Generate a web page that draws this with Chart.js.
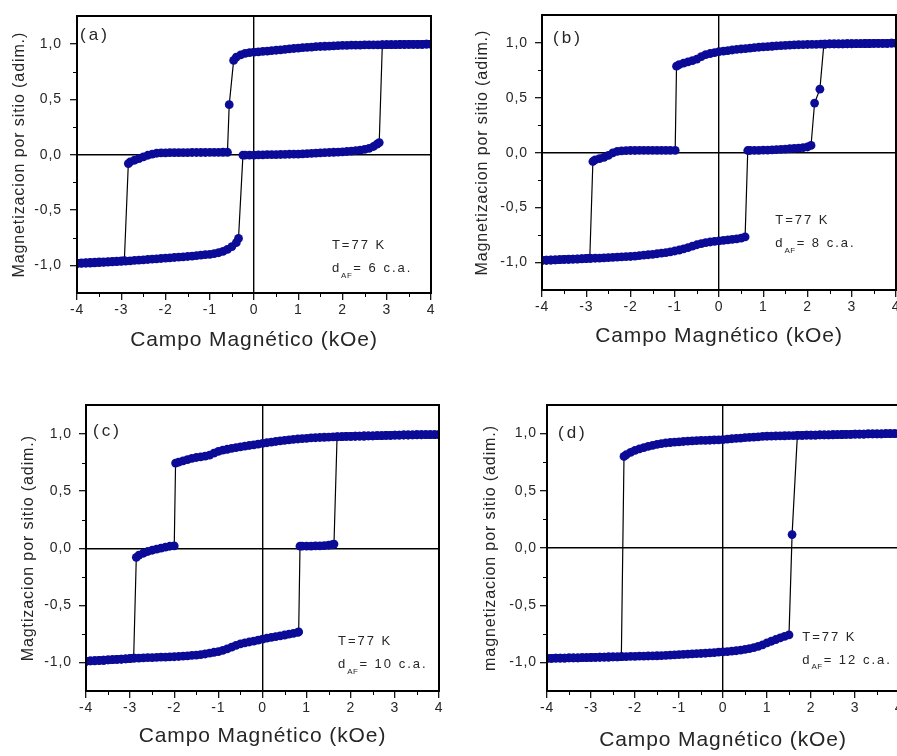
<!DOCTYPE html>
<html lang="es">
<head>
<meta charset="utf-8">
<title>Ciclos de histéresis a 77 K</title>
<script src="https://cdn.jsdelivr.net/npm/chart.js@4.4.1/dist/chart.umd.min.js"></script>
<style>
  html, body { margin: 0; padding: 0; background: #fff; overflow: hidden; }
  body { position: relative; width: 897px; height: 756px; }
  canvas { position: absolute; }
</style>
</head>
<body>
<canvas id="panelA" width="450" height="360" style="left:0;top:0"></canvas>
<canvas id="panelB" width="460" height="360" style="left:450px;top:0"></canvas>
<canvas id="panelC" width="450" height="366" style="left:0;top:390px"></canvas>
<canvas id="panelD" width="470" height="366" style="left:450px;top:390px"></canvas>
<script>
// axis ticks (campo en kOe, magnetización adimensional)
const fieldTicks = [-4, -3, -2, -1, 0, 1, 2, 3, 4];
const fieldMinorTicks = [-3.5, -2.5, -1.5, -0.5, 0.5, 1.5, 2.5, 3.5];
const magTicks = [-1, -0.5, 0, 0.5, 1];
const magMinorTicks = [-0.75, -0.25, 0.25, 0.75];

// (a) d_AF = 6 c.a. : field sweep from +4 to -4, then back
const downA = [
  [4.0,1.000],[3.9,0.999],[3.8,0.998],[3.7,0.998],[3.6,0.997],[3.5,0.997],[3.4,0.996],[3.3,0.996],[3.2,0.995],[3.1,0.995],
  [3.0,0.994],[2.9,0.994],[2.8,0.993],[2.7,0.993],[2.6,0.992],[2.5,0.992],[2.4,0.991],[2.3,0.991],[2.2,0.990],[2.1,0.989],
  [2.0,0.988],[1.9,0.986],[1.8,0.984],[1.7,0.982],[1.6,0.980],[1.5,0.978],[1.4,0.976],[1.3,0.973],[1.2,0.970],[1.1,0.967],
  [1.0,0.964],[0.9,0.960],[0.8,0.956],[0.7,0.952],[0.6,0.948],[0.5,0.944],[0.4,0.940],[0.3,0.937],[0.2,0.934],[0.1,0.930],
  [0.0,0.927],[-0.1,0.922],[-0.2,0.915],[-0.3,0.902],[-0.4,0.882],[-0.46,0.852],
  [-0.56,0.452],
  [-0.60,0.022],[-0.7,0.022],[-0.8,0.021],[-0.9,0.021],[-1.0,0.021],[-1.1,0.020],[-1.2,0.020],[-1.3,0.020],[-1.4,0.020],
  [-1.5,0.019],[-1.6,0.019],[-1.7,0.019],[-1.8,0.018],[-1.9,0.018],[-2.0,0.017],[-2.1,0.016],[-2.2,0.013],[-2.3,0.006],
  [-2.4,-0.005],[-2.5,-0.020],[-2.6,-0.036],[-2.7,-0.050],[-2.8,-0.066],[-2.84,-0.080],
  [-2.93,-0.958],[-3.0,-0.960],[-3.1,-0.962],[-3.2,-0.964],[-3.3,-0.966],[-3.4,-0.968],[-3.5,-0.970],[-3.6,-0.972],
  [-3.7,-0.974],[-3.8,-0.976],[-3.9,-0.978],[-4.0,-0.980]
];
const upA = [
  [-4.0,-0.985],[-3.9,-0.983],[-3.8,-0.981],[-3.7,-0.979],[-3.6,-0.977],[-3.5,-0.975],[-3.4,-0.973],[-3.3,-0.971],
  [-3.2,-0.969],[-3.1,-0.967],[-3.0,-0.965],[-2.9,-0.962],[-2.8,-0.959],[-2.7,-0.956],[-2.6,-0.953],[-2.5,-0.950],
  [-2.4,-0.947],[-2.3,-0.944],[-2.2,-0.941],[-2.1,-0.938],[-2.0,-0.935],[-1.9,-0.932],[-1.8,-0.929],[-1.7,-0.926],
  [-1.6,-0.923],[-1.5,-0.920],[-1.4,-0.916],[-1.3,-0.912],[-1.2,-0.908],[-1.1,-0.904],[-1.0,-0.900],[-0.9,-0.894],
  [-0.8,-0.886],[-0.7,-0.874],[-0.6,-0.856],[-0.5,-0.830],[-0.4,-0.795],[-0.35,-0.757],
  [-0.25,-0.004],[-0.2,-0.004],[-0.1,-0.003],[0.0,-0.003],[0.1,-0.002],[0.2,-0.001],[0.3,0.000],[0.4,0.000],[0.5,0.001],
  [0.6,0.002],[0.7,0.003],[0.8,0.004],[0.9,0.005],[1.0,0.006],[1.1,0.008],[1.2,0.010],[1.3,0.012],[1.4,0.014],[1.5,0.016],
  [1.6,0.018],[1.7,0.020],[1.8,0.022],[1.9,0.024],[2.0,0.026],[2.1,0.029],[2.2,0.032],[2.3,0.036],[2.4,0.041],[2.5,0.048],
  [2.6,0.058],[2.7,0.074],[2.78,0.095],[2.83,0.110],
  [2.9,0.993],[3.0,0.994],[3.1,0.995],[3.2,0.995],[3.3,0.996],[3.4,0.996],[3.5,0.997],[3.6,0.997],[3.7,0.998],
  [3.8,0.998],[3.9,0.999],[4.0,1.000]
];

// (b) d_AF = 8 c.a.
const downB = [
  [4.0,0.997],[3.9,0.997],[3.8,0.996],[3.7,0.996],[3.6,0.995],[3.5,0.995],[3.4,0.994],[3.3,0.994],[3.2,0.993],[3.1,0.993],
  [3.0,0.992],[2.9,0.992],[2.8,0.991],[2.7,0.991],[2.6,0.990],[2.5,0.990],[2.4,0.989],[2.3,0.988],[2.2,0.987],[2.1,0.986],
  [2.0,0.985],[1.9,0.984],[1.8,0.983],[1.7,0.981],[1.6,0.979],[1.5,0.977],[1.4,0.975],[1.3,0.972],[1.2,0.969],[1.1,0.966],
  [1.0,0.963],[0.9,0.960],[0.8,0.956],[0.7,0.952],[0.6,0.948],[0.5,0.944],[0.4,0.940],[0.3,0.935],[0.2,0.930],[0.1,0.925],
  [0.0,0.920],[-0.1,0.912],[-0.2,0.903],[-0.3,0.893],[-0.4,0.875],[-0.5,0.852],[-0.6,0.838],[-0.7,0.827],[-0.8,0.815],
  [-0.9,0.802],[-0.96,0.788],
  [-0.99,0.022],[-1.1,0.022],[-1.2,0.022],[-1.3,0.022],[-1.4,0.022],[-1.5,0.022],[-1.6,0.021],[-1.7,0.021],[-1.8,0.021],
  [-1.9,0.020],[-2.0,0.020],[-2.1,0.019],[-2.2,0.017],[-2.3,0.012],[-2.4,-0.002],[-2.5,-0.025],[-2.6,-0.042],[-2.7,-0.054],
  [-2.8,-0.066],[-2.85,-0.080],
  [-2.92,-0.960],[-3.0,-0.962],[-3.1,-0.964],[-3.2,-0.966],[-3.3,-0.968],[-3.4,-0.970],[-3.5,-0.972],[-3.6,-0.974],
  [-3.7,-0.976],[-3.8,-0.978],[-3.9,-0.979],[-4.0,-0.980]
];
const upB = [
  [-4.0,-0.980],[-3.9,-0.979],[-3.8,-0.977],[-3.7,-0.976],[-3.6,-0.974],[-3.5,-0.972],[-3.4,-0.971],[-3.3,-0.969],
  [-3.2,-0.968],[-3.1,-0.966],[-3.0,-0.965],[-2.9,-0.963],[-2.8,-0.961],[-2.7,-0.959],[-2.6,-0.957],[-2.5,-0.955],
  [-2.4,-0.953],[-2.3,-0.951],[-2.2,-0.949],[-2.1,-0.947],[-2.0,-0.945],[-1.9,-0.941],[-1.8,-0.937],[-1.7,-0.933],
  [-1.6,-0.929],[-1.5,-0.925],[-1.4,-0.920],[-1.3,-0.915],[-1.2,-0.910],[-1.1,-0.903],[-1.0,-0.895],[-0.9,-0.886],
  [-0.8,-0.876],[-0.7,-0.864],[-0.6,-0.851],[-0.5,-0.838],[-0.4,-0.827],[-0.3,-0.819],[-0.2,-0.813],[-0.1,-0.807],
  [0.0,-0.802],[0.1,-0.798],[0.2,-0.794],[0.3,-0.790],[0.4,-0.785],[0.5,-0.778],[0.59,-0.767],
  [0.65,0.020],[0.7,0.020],[0.8,0.021],[0.9,0.022],[1.0,0.023],[1.1,0.024],[1.2,0.026],[1.3,0.028],[1.4,0.030],
  [1.5,0.033],[1.6,0.036],[1.7,0.039],[1.8,0.042],[1.9,0.046],[2.0,0.052],[2.08,0.066],
  [2.16,0.452],[2.28,0.578],
  [2.37,0.988],[2.4,0.989],[2.5,0.990],[2.6,0.990],[2.7,0.991],[2.8,0.991],[2.9,0.992],[3.0,0.992],[3.1,0.993],
  [3.2,0.993],[3.3,0.994],[3.4,0.994],[3.5,0.995],[3.6,0.995],[3.7,0.996],[3.8,0.996],[3.9,0.997],[4.0,0.997]
];

// (c) d_AF = 10 c.a.
const downC = [
  [4.0,0.995],[3.9,0.995],[3.8,0.994],[3.7,0.994],[3.6,0.993],[3.5,0.993],[3.4,0.992],[3.3,0.991],[3.2,0.991],[3.1,0.990],
  [3.0,0.989],[2.9,0.988],[2.8,0.987],[2.7,0.986],[2.6,0.985],[2.5,0.984],[2.4,0.983],[2.3,0.982],[2.2,0.981],[2.1,0.980],
  [2.0,0.979],[1.9,0.978],[1.8,0.977],[1.7,0.976],[1.6,0.975],[1.5,0.973],[1.4,0.971],[1.3,0.969],[1.2,0.967],[1.1,0.965],
  [1.0,0.962],[0.9,0.959],[0.8,0.956],[0.7,0.952],[0.6,0.948],[0.5,0.944],[0.4,0.939],[0.3,0.934],[0.2,0.929],[0.1,0.923],
  [0.0,0.917],[-0.1,0.911],[-0.2,0.905],[-0.3,0.899],[-0.4,0.893],[-0.5,0.887],[-0.6,0.880],[-0.7,0.873],[-0.8,0.866],
  [-0.9,0.858],[-1.0,0.848],[-1.1,0.832],[-1.2,0.815],[-1.3,0.806],[-1.4,0.800],[-1.5,0.794],[-1.6,0.786],[-1.7,0.776],
  [-1.8,0.764],[-1.9,0.753],[-1.97,0.745],
  [-2.0,0.020],[-2.1,0.017],[-2.2,0.010],[-2.3,0.001],[-2.4,-0.008],[-2.5,-0.018],[-2.6,-0.029],[-2.7,-0.044],
  [-2.8,-0.060],[-2.86,-0.080],
  [-2.92,-0.962],[-3.0,-0.966],[-3.1,-0.969],[-3.2,-0.972],[-3.3,-0.974],[-3.4,-0.976],[-3.5,-0.978],[-3.6,-0.981],
  [-3.7,-0.983],[-3.8,-0.985],[-3.9,-0.987],[-4.0,-0.990]
];
const upC = [
  [-4.0,-0.990],[-3.9,-0.987],[-3.8,-0.985],[-3.7,-0.983],[-3.6,-0.981],[-3.5,-0.978],[-3.4,-0.976],[-3.3,-0.974],
  [-3.2,-0.971],[-3.1,-0.968],[-3.0,-0.965],[-2.9,-0.963],[-2.8,-0.962],[-2.7,-0.960],[-2.6,-0.958],[-2.5,-0.957],
  [-2.4,-0.955],[-2.3,-0.954],[-2.2,-0.953],[-2.1,-0.951],[-2.0,-0.950],[-1.9,-0.948],[-1.8,-0.945],[-1.7,-0.942],
  [-1.6,-0.939],[-1.5,-0.936],[-1.4,-0.932],[-1.3,-0.926],[-1.2,-0.918],[-1.1,-0.911],[-1.0,-0.905],[-0.9,-0.895],
  [-0.8,-0.882],[-0.7,-0.866],[-0.6,-0.850],[-0.5,-0.838],[-0.4,-0.829],[-0.3,-0.821],[-0.2,-0.813],[-0.1,-0.804],
  [0.0,-0.796],[0.1,-0.788],[0.2,-0.781],[0.3,-0.774],[0.4,-0.767],[0.5,-0.760],[0.6,-0.753],[0.7,-0.745],[0.8,-0.737],
  [0.82,-0.733],
  [0.85,0.018],[0.9,0.018],[1.0,0.019],[1.1,0.019],[1.2,0.020],[1.3,0.021],[1.4,0.023],[1.5,0.026],[1.58,0.030],
  [1.62,0.036],
  [1.69,0.975],[1.8,0.977],[1.9,0.978],[2.0,0.979],[2.1,0.980],[2.2,0.981],[2.3,0.982],[2.4,0.983],[2.5,0.984],
  [2.6,0.985],[2.7,0.986],[2.8,0.987],[2.9,0.988],[3.0,0.989],[3.1,0.990],[3.2,0.991],[3.3,0.991],[3.4,0.992],
  [3.5,0.993],[3.6,0.993],[3.7,0.994],[3.8,0.994],[3.9,0.995],[4.0,0.995]
];

// (d) d_AF = 12 c.a.
const downD = [
  [4.0,1.000],[3.9,1.000],[3.8,0.999],[3.7,0.999],[3.6,0.998],[3.5,0.998],[3.4,0.997],[3.3,0.997],[3.2,0.996],[3.1,0.996],
  [3.0,0.995],[2.9,0.994],[2.8,0.993],[2.7,0.992],[2.6,0.991],[2.5,0.990],[2.4,0.989],[2.3,0.989],[2.2,0.988],[2.1,0.987],
  [2.0,0.987],[1.9,0.986],[1.8,0.985],[1.7,0.984],[1.6,0.983],[1.5,0.982],[1.4,0.981],[1.3,0.980],[1.2,0.979],[1.1,0.978],
  [1.0,0.977],[0.9,0.975],[0.8,0.972],[0.7,0.970],[0.6,0.967],[0.5,0.964],[0.4,0.961],[0.3,0.958],[0.2,0.955],[0.1,0.951],
  [0.0,0.948],[-0.1,0.946],[-0.2,0.944],[-0.3,0.942],[-0.4,0.941],[-0.5,0.940],[-0.6,0.938],[-0.7,0.936],[-0.8,0.934],
  [-0.9,0.931],[-1.0,0.928],[-1.1,0.925],[-1.2,0.922],[-1.3,0.918],[-1.4,0.912],[-1.5,0.905],[-1.6,0.897],[-1.7,0.888],
  [-1.8,0.878],[-1.9,0.867],[-2.0,0.853],[-2.1,0.836],[-2.2,0.815],[-2.25,0.800],
  [-2.31,-0.950],[-2.4,-0.951],[-2.5,-0.952],[-2.6,-0.953],[-2.7,-0.954],[-2.8,-0.955],[-2.9,-0.956],[-3.0,-0.957],
  [-3.1,-0.958],[-3.2,-0.959],[-3.3,-0.960],[-3.4,-0.960],[-3.5,-0.961],[-3.6,-0.962],[-3.7,-0.963],[-3.8,-0.963],
  [-3.9,-0.964],[-4.0,-0.965]
];
const upD = [
  [-4.0,-0.965],[-3.9,-0.964],[-3.8,-0.963],[-3.7,-0.963],[-3.6,-0.962],[-3.5,-0.961],[-3.4,-0.960],[-3.3,-0.960],
  [-3.2,-0.959],[-3.1,-0.958],[-3.0,-0.957],[-2.9,-0.956],[-2.8,-0.955],[-2.7,-0.954],[-2.6,-0.953],[-2.5,-0.952],
  [-2.4,-0.951],[-2.3,-0.950],[-2.2,-0.949],[-2.1,-0.948],[-2.0,-0.947],[-1.9,-0.946],[-1.8,-0.945],[-1.7,-0.944],
  [-1.6,-0.943],[-1.5,-0.942],[-1.4,-0.940],[-1.3,-0.938],[-1.2,-0.936],[-1.1,-0.934],[-1.0,-0.932],[-0.9,-0.930],
  [-0.8,-0.928],[-0.7,-0.926],[-0.6,-0.924],[-0.5,-0.922],[-0.4,-0.920],[-0.3,-0.917],[-0.2,-0.914],[-0.1,-0.911],
  [0.0,-0.908],[0.1,-0.905],[0.2,-0.902],[0.3,-0.898],[0.4,-0.893],[0.5,-0.887],[0.6,-0.880],[0.7,-0.871],[0.8,-0.860],
  [0.9,-0.846],[1.0,-0.830],[1.1,-0.815],[1.2,-0.800],[1.3,-0.786],[1.4,-0.772],[1.5,-0.760],
  [1.57,0.117],
  [1.69,0.984],[1.8,0.985],[1.9,0.986],[2.0,0.987],[2.1,0.987],[2.2,0.988],[2.3,0.989],[2.4,0.989],[2.5,0.990],
  [2.6,0.991],[2.7,0.992],[2.8,0.993],[2.9,0.994],[3.0,0.995],[3.1,0.996],[3.2,0.996],[3.3,0.997],[3.4,0.997],
  [3.5,0.998],[3.6,0.998],[3.7,0.999],[3.8,0.999],[3.9,1.000],[4.0,1.000]
];

const FONT = "'Liberation Sans', Arial, sans-serif";
const TEXT_COLOR = '#262626';
const MARK_COLOR = '#0b0b98';

// geometry of each panel inside its canvas
const panels = [
  {
    id: 'panelA', tag: '(a)', spacing: '6', yTitle: 'Magnetizacion por sitio (adim.)',
    down: downA, up: upA, tagAt: [-3.93, 1.075], noteAt: [1.76, -0.82],
    box: { top: 7, right: 19, yWidth: 77, xHeight: 67, yTitlePad: 10.4, yTickPad: 8, xTickPad: 1.5, xTitlePad: 7.4 }
  },
  {
    id: 'panelB', tag: '(b)', spacing: '8', yTitle: 'Magnetizacion por sitio (adim.)',
    down: downB, up: upB, tagAt: [-3.75, 1.04], noteAt: [1.27, -0.62],
    box: { top: 4, right: 14, yWidth: 92, xHeight: 70, yTitlePad: 23.4, yTickPad: 7, xTickPad: 1.5, xTitlePad: 10.7 }
  },
  {
    id: 'panelC', tag: '(c)', spacing: '10', yTitle: 'Magtizacion por sitio (adim.)',
    down: downC, up: upC, tagAt: [-3.84, 1.02], noteAt: [1.71, -0.82],
    box: { top: 15, right: 11, yWidth: 86, xHeight: 65, yTitlePad: 19.4, yTickPad: 7, xTickPad: 1.9, xTitlePad: 6.7 }
  },
  {
    id: 'panelD', tag: '(d)', spacing: '12', yTitle: 'magnetizacion por sitio (adim.)',
    down: downD, up: upD, tagAt: [-3.75, 1.005], noteAt: [1.80, -0.78],
    box: { top: 15, right: 21, yWidth: 97, xHeight: 65, yTitlePad: 31.4, yTickPad: 3, xTickPad: 1.9, xTitlePad: 3.4 }
  }
];

function drawSpaced(ctx, text, x, y, size, spacing) {
  ctx.font = `${size}px ${FONT}`;
  ctx.letterSpacing = `${spacing}px`;
  ctx.fillText(text, x, y);
  return ctx.measureText(text).width;
}

// frame, minor ticks, panel tag and T / d_AF note
const panelDecor = {
  id: 'panelDecor',
  beforeDraw(chart) {
    chart.ctx.letterSpacing = '0.9px';
  },
  afterDraw(chart, args, opts) {
    const { ctx, chartArea: area, scales: { x, y } } = chart;
    const l = Math.round(area.left), r = Math.round(area.right);
    const t = Math.round(area.top), b = Math.round(area.bottom);
    ctx.save();
    ctx.strokeStyle = '#000';
    ctx.lineWidth = 1;
    ctx.beginPath();
    fieldMinorTicks.forEach(v => {
      const px = Math.round(x.getPixelForValue(v)) + 0.5;
      ctx.moveTo(px, b);
      ctx.lineTo(px, b + 4);
    });
    magMinorTicks.forEach(v => {
      const py = Math.round(y.getPixelForValue(v)) + 0.5;
      ctx.moveTo(l - 4, py);
      ctx.lineTo(l, py);
    });
    ctx.stroke();
    ctx.lineWidth = 2;
    ctx.strokeRect(l, t, r - l, b - t);

    ctx.fillStyle = TEXT_COLOR;
    ctx.textBaseline = 'middle';
    ctx.textAlign = 'left';
    drawSpaced(ctx, opts.tag, x.getPixelForValue(opts.tagAt[0]), y.getPixelForValue(opts.tagAt[1]), 17, 3);

    const nx = x.getPixelForValue(opts.noteAt[0]);
    const ny = y.getPixelForValue(opts.noteAt[1]);
    drawSpaced(ctx, 'T=77 K', nx, ny, 13, 2);
    const dy = ny + 23;
    let cx = nx + drawSpaced(ctx, 'd', nx, dy, 13, 2);
    cx += drawSpaced(ctx, 'AF', cx, dy + 7, 8, 0.5);
    drawSpaced(ctx, `= ${opts.spacing} c.a.`, cx + 1, dy, 13, 2);
    ctx.restore();
  }
};

function branch(points) {
  return {
    data: points.map(([x, y]) => ({ x, y })),
    showLine: true,
    borderColor: '#000',
    borderWidth: 1.2,
    pointRadius: 4.4,
    pointHoverRadius: 4.4,
    pointBackgroundColor: MARK_COLOR,
    pointBorderColor: MARK_COLOR,
    pointBorderWidth: 0
  };
}

function zeroLine(ctx) {
  return ctx.tick && ctx.tick.value === 0 ? '#000' : 'rgba(0,0,0,0)';
}

function createHysteresisChart(panel) {
  const box = panel.box;
  return new Chart(document.getElementById(panel.id), {
    type: 'scatter',
    data: { datasets: [branch(panel.down), branch(panel.up)] },
    plugins: [panelDecor],
    options: {
      responsive: false,
      animation: false,
      events: [],
      layout: { autoPadding: false, padding: { top: box.top, right: box.right, bottom: 0, left: 0 } },
      plugins: {
        legend: { display: false },
        tooltip: { enabled: false },
        panelDecor: { tag: panel.tag, tagAt: panel.tagAt, noteAt: panel.noteAt, spacing: panel.spacing }
      },
      scales: {
        x: {
          type: 'linear',
          min: -4,
          max: 4,
          afterBuildTicks: scale => { scale.ticks = fieldTicks.map(value => ({ value })); },
          afterFit: scale => { scale.height = box.xHeight; },
          border: { display: false },
          grid: { color: zeroLine, lineWidth: 1.4, tickColor: '#000', tickWidth: 1.2, tickLength: 7 },
          ticks: {
            autoSkip: false,
            maxRotation: 0,
            padding: box.xTickPad,
            color: TEXT_COLOR,
            font: { family: FONT, size: 14 },
            callback: v => String(v)
          },
          title: {
            display: true,
            text: 'Campo Magnético (kOe)',
            color: TEXT_COLOR,
            font: { family: FONT, size: 21 },
            padding: { top: 0, bottom: box.xTitlePad }
          }
        },
        y: {
          type: 'linear',
          min: -1.25,
          max: 1.25,
          afterBuildTicks: scale => { scale.ticks = magTicks.map(value => ({ value })); },
          afterFit: scale => { scale.width = box.yWidth; },
          border: { display: false },
          grid: { color: zeroLine, lineWidth: 1.4, tickColor: '#000', tickWidth: 1.2, tickLength: 7 },
          ticks: {
            autoSkip: false,
            padding: box.yTickPad,
            color: TEXT_COLOR,
            font: { family: FONT, size: 14 },
            callback: v => v.toFixed(1).replace('.', ',')
          },
          title: {
            display: true,
            text: panel.yTitle,
            color: TEXT_COLOR,
            font: { family: FONT, size: 16 },
            padding: { top: box.yTitlePad, bottom: 0 }
          }
        }
      }
    }
  });
}

panels.forEach(createHysteresisChart);
</script>
</body>
</html>
